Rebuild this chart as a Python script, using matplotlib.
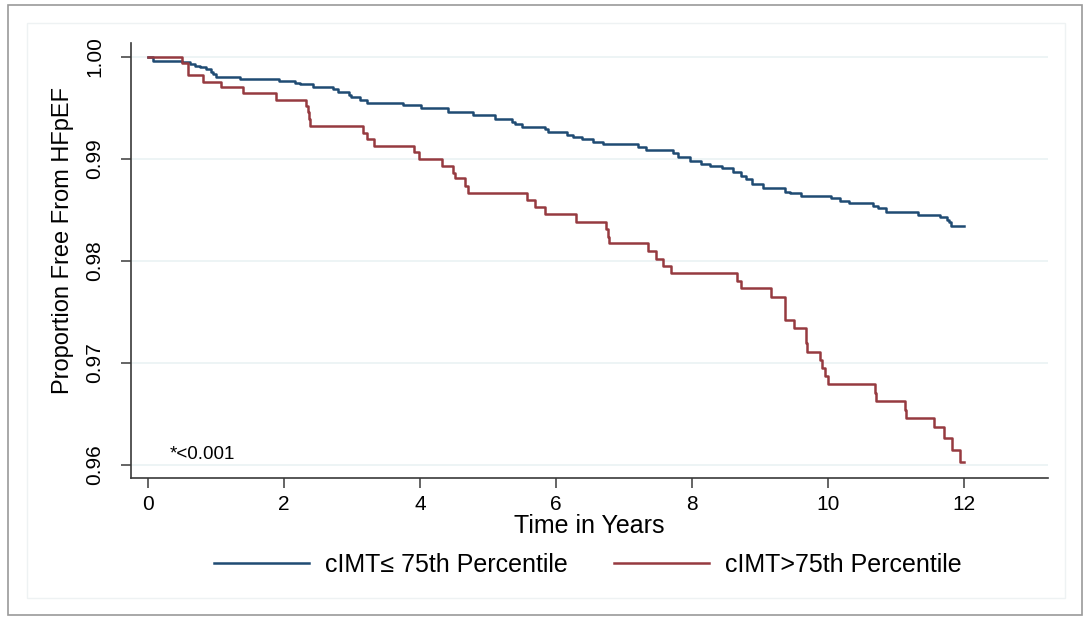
import matplotlib.pyplot as plt
from matplotlib.patches import Rectangle

plt.rcParams['font.family'] = ['Liberation Sans', 'DejaVu Sans']

# Kaplan-Meier steps (time in years, proportion free)
blue_t = [0, 0.07, 0.50, 0.62, 0.69, 0.76, 0.86, 0.92, 0.96, 1.00,
          1.35, 1.92, 2.16, 2.24, 2.43, 2.72, 2.80, 2.95, 2.98, 3.12,
          3.22, 3.75, 4.02, 4.42, 4.78, 5.10, 5.35, 5.40, 5.50, 5.84,
          5.88, 6.16, 6.25, 6.38, 6.55, 6.70, 7.21, 7.33, 7.73, 7.80,
          7.97, 8.14, 8.27, 8.44, 8.61, 8.73, 8.79, 8.88, 9.05, 9.37,
          9.44, 9.61, 10.05, 10.18, 10.31, 10.67, 10.74, 10.86, 11.33, 11.65,
          11.75, 11.79, 11.82]
blue_s = [1.0, 0.99964, 0.99948, 0.99931, 0.99915, 0.99899, 0.99882, 0.99856, 0.99833, 0.99807,
          0.99788, 0.99768, 0.99748, 0.99732, 0.99709, 0.99683, 0.99660, 0.99627, 0.99605, 0.99578,
          0.99546, 0.99529, 0.99497, 0.99460, 0.99433, 0.99395, 0.99366, 0.99342, 0.99317, 0.99291,
          0.99268, 0.99235, 0.99213, 0.99193, 0.99170, 0.99147, 0.99121, 0.99088, 0.99056, 0.99023,
          0.98980, 0.98951, 0.98931, 0.98909, 0.98870, 0.98837, 0.98804, 0.98752, 0.98713, 0.98680,
          0.98664, 0.98637, 0.98615, 0.98591, 0.98572, 0.98542, 0.98516, 0.98477, 0.98451, 0.98428,
          0.98402, 0.98380, 0.98346]

red_t = [0, 0.50, 0.59, 0.81, 1.07, 1.40, 1.88, 2.32, 2.35, 2.37,
         2.39, 3.16, 3.22, 3.32, 3.91, 3.98, 4.33, 4.49, 4.52, 4.66,
         4.71, 5.57, 5.69, 5.84, 6.30, 6.74, 6.76, 6.78, 7.35, 7.47,
         7.58, 7.69, 8.66, 8.72, 9.17, 9.37, 9.51, 9.68, 9.70, 9.89,
         9.92, 9.96, 10.00, 10.69, 10.71, 11.13, 11.15, 11.57, 11.71, 11.83,
         11.94]
red_s = [1.0, 0.99938, 0.99821, 0.99758, 0.99703, 0.99644, 0.99578, 0.99520, 0.99460, 0.99390,
         0.99324, 0.99252, 0.99193, 0.99127, 0.99072, 0.98997, 0.98931, 0.98866, 0.98811, 0.98735,
         0.98663, 0.98598, 0.98532, 0.98461, 0.98385, 0.98311, 0.98238, 0.98173, 0.98098, 0.98020,
         0.97951, 0.97879, 0.97804, 0.97732, 0.97650, 0.97422, 0.97340, 0.97200, 0.97111, 0.97029,
         0.96948, 0.96873, 0.96794, 0.96709, 0.96627, 0.96539, 0.96464, 0.96376, 0.96262, 0.96147,
         0.96032]

t_end = 12.0
labels = ['cIMT\u2264 75th Percentile', 'cIMT>75th Percentile']
xticks = [0, 2, 4, 6, 8, 10, 12]
yticks = [0.96, 0.97, 0.98, 0.99, 1.00]

fig = plt.figure(figsize=(10.91, 6.24), dpi=100)
W, H = 1091, 624

# screenshot-like frame around the graph
fig.patches.append(Rectangle((8 / W, 1 - 615 / H), 1074 / W, 610 / H, transform=fig.transFigure,
                             fill=False, ec='#9a9a9a', lw=1.2))
fig.patches.append(Rectangle((27 / W, 1 - 598 / H), 1038 / W, 575 / H, transform=fig.transFigure,
                             fill=False, ec='#eef2f3', lw=1.0))

ax = fig.add_axes([131 / W, 1 - 478 / H, 917 / W, 435 / H])

ax.step(blue_t + [t_end], blue_s + [blue_s[-1]], where='post', color='#1f4b73', lw=1.8, label=labels[0])
ax.step(red_t + [t_end], red_s + [red_s[-1]], where='post', color='#963a40', lw=1.8, label=labels[1])

ax.set_xlim(-0.25, 13.24)
ax.set_ylim(0.95873, 1.00137)
ax.set_xticks(xticks)
ax.set_yticks(yticks)
ax.set_yticklabels(['%.2f' % v for v in yticks])
ax.grid(True, axis='y', color='#eaf2f3', lw=1.2)
ax.set_axisbelow(True)

for s in ['top', 'right']:
    ax.spines[s].set_visible(False)
for s in ['left', 'bottom']:
    ax.spines[s].set_color('#3a3a3a')
    ax.spines[s].set_linewidth(1.2)

ax.tick_params(axis='both', colors='#3a3a3a', length=7, width=1.1, labelsize=15, labelcolor='black')
ax.tick_params(axis='x', pad=5)
ax.tick_params(axis='y', pad=12)
for lab in ax.get_yticklabels():
    lab.set_rotation(90)
    lab.set_va('center')

ax.set_xlabel('Time in Years', fontsize=18, labelpad=0)
ax.set_ylabel('Proportion Free From HFpEF', fontsize=17)
ax.yaxis.set_label_coords(-0.062, 0.547)

ax.text(0.32, 0.9610, '*<0.001', fontsize=13.5, va='center', ha='left')

fig.legend(loc='center', bbox_to_anchor=(588 / W, 1 - 565 / H), ncol=2, frameon=False,
           fontsize=18, handlelength=3.8, handletextpad=0.64, columnspacing=1.85)

fig.savefig('out.png', dpi=100)
